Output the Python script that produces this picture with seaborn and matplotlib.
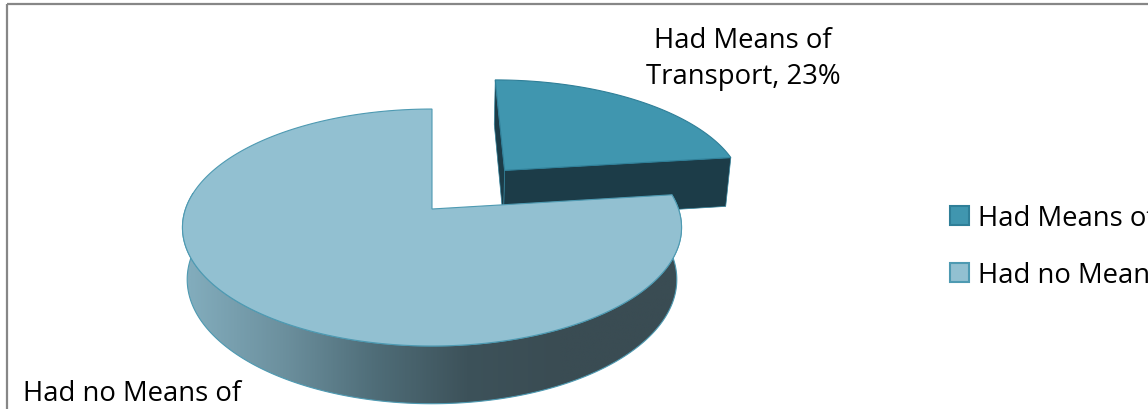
import numpy as np
import matplotlib
matplotlib.use("Agg")
import matplotlib.pyplot as plt
import seaborn as sns
from matplotlib.patches import Polygon, Rectangle, Patch
from matplotlib.colors import LinearSegmentedColormap

# ---------------- data ----------------
categories = ["Had Means of Transport", "Had no Means of Transport"]
shares = [23, 77]
slice_labels = ["Had Means of\nTransport, 23%", "Had no Means of\nTransport, 77%"]
explode = [0.47, 0.0]

top_colors = ["#4096AF", "#92C0D1"]
side_colors = ["#1C3C48", "#3F6878"]
edge_colors = ["#2F7F98", "#4E9AB2"]

sns.set_style("white")
plt.rcParams['font.family'] = ['Open Sans', 'DejaVu Sans']
plt.rcParams['text.color'] = 'black'

W, H = 1148, 410
fig = plt.figure(figsize=(W / 100, H / 100), dpi=100)
ax = fig.add_axes([0, 0, 1, 1])

# ------------- perspective projection of a 3D pie -------------
CX, CY = 432, 210
XSCALE = 0.978
phi = np.radians(27.3)
cp, sp = np.cos(phi), np.sin(phi)
DCAM, FOC, THICK = 5.69, 1434.0, 0.234


def proj(x, y, z):
    x = np.asarray(x, float); y = np.asarray(y, float); z = np.asarray(z, float)
    depth = DCAM + y * cp - z * sp
    up = y * sp + z * cp
    return CX + XSCALE * FOC * x / depth, CY - FOC * up / depth


def poly(xs, ys, zs):
    px, py = proj(xs, ys, zs)
    return np.column_stack([px, py])


total = float(sum(shares))
start = 90.0
slices = []
for i, v in enumerate(shares):
    sweep = 360.0 * v / total
    a0, a1 = start - sweep, start  # slice occupies [a0, a1] ccw
    mid = np.radians((a0 + a1) / 2)
    ox, oy = explode[i] * np.cos(mid), explode[i] * np.sin(mid)
    slices.append((a0, a1, ox, oy))
    start = a0

grad_cmap = LinearSegmentedColormap.from_list(
    "wall", ["#82ACBC", "#6C909E", "#4F6D78", "#3D525A", "#3A4C53"])

for i, (a0, a1, ox, oy) in enumerate(slices):
    th = np.radians(np.linspace(a0, a1, 400))
    cx, cy = np.cos(th) + ox, np.sin(th) + oy
    # radial faces
    for ang, sign in ((a0, -1), (a1, 1)):
        r = np.radians(ang)
        ex, ey = np.cos(r) + ox, np.sin(r) + oy
        nx, ny = sign * -np.sin(r), sign * np.cos(r)
        camx, camy = 0.0, -DCAM * cp
        if nx * (camx - ox) + ny * (camy - oy) > 1e-6:
            pts = poly([ox, ex, ex, ox], [oy, ey, ey, oy], [0, 0, -THICK, -THICK])
            ax.add_patch(Polygon(pts, closed=True, facecolor=side_colors[0],
                                 edgecolor=edge_colors[0], lw=0.5, zorder=2 + 3 * i))
    # outer wall (front part)
    wth = np.radians(np.linspace(a0, a1, 400))
    vis = np.sin(wth) < 0.15
    if vis.any() and i == 1:
        wt = wth[vis]
        wx, wy = np.cos(wt) + ox, np.sin(wt) + oy
        top = poly(wx, wy, np.zeros_like(wx))
        bot = poly(wx, wy, -THICK * np.ones_like(wx))
        pts = np.vstack([top, bot[::-1]])
        wall = Polygon(pts, closed=True, facecolor="none",
                       edgecolor=edge_colors[1], lw=0.8, zorder=3 + 3 * i)
        ax.add_patch(wall)
        x0, x1 = pts[:, 0].min(), pts[:, 0].max()
        y0, y1 = pts[:, 1].min(), pts[:, 1].max()
        gx = np.clip((np.linspace(x0, x1, 256) - 190) / (560 - 190), 0, 1)
        im = ax.imshow(gx[None, :], extent=[x0, x1, y1, y0], cmap=grad_cmap,
                       vmin=0, vmax=1, aspect="auto", zorder=2.5 + 3 * i,
                       interpolation="bilinear")
        im.set_clip_path(wall)
    # top face
    top = np.vstack([poly([ox], [oy], [0]), poly(cx, cy, np.zeros_like(cx))])
    ax.add_patch(Polygon(top, closed=True, facecolor=top_colors[i],
                         edgecolor=edge_colors[i], lw=0.8, zorder=4 + 3 * i))

# ------------- labels -------------
FS = 19.8
ax.text(743, 59, slice_labels[0], ha="center", va="center", fontsize=FS,
        linespacing=1.38, color="black", zorder=20)
ax.text(132, 380, slice_labels[1], ha="center", va="top", fontsize=FS,
        linespacing=1.38, color="black", zorder=20)

# ------------- legend -------------
handles = [Patch(facecolor=top_colors[k], edgecolor=edge_colors[k], lw=1.5)
           for k in range(2)]
ax.legend(handles, categories, loc="upper left",
          bbox_to_anchor=(950 / W, 1 - 205 / H), frameon=False,
          fontsize=FS, handlelength=0.69, handleheight=0.69,
          handletextpad=0.33, labelspacing=1.06, borderpad=0, borderaxespad=0,
          labelcolor="black")

# ------------- chart border -------------
ax.add_patch(Rectangle((7, 5), W + 20, H + 20, facecolor="none",
                       edgecolor="#878787", lw=1.6, zorder=30))

ax.set_xlim(0, W)
ax.set_ylim(H, 0)
ax.axis("off")
fig.savefig("out.png", dpi=100)
